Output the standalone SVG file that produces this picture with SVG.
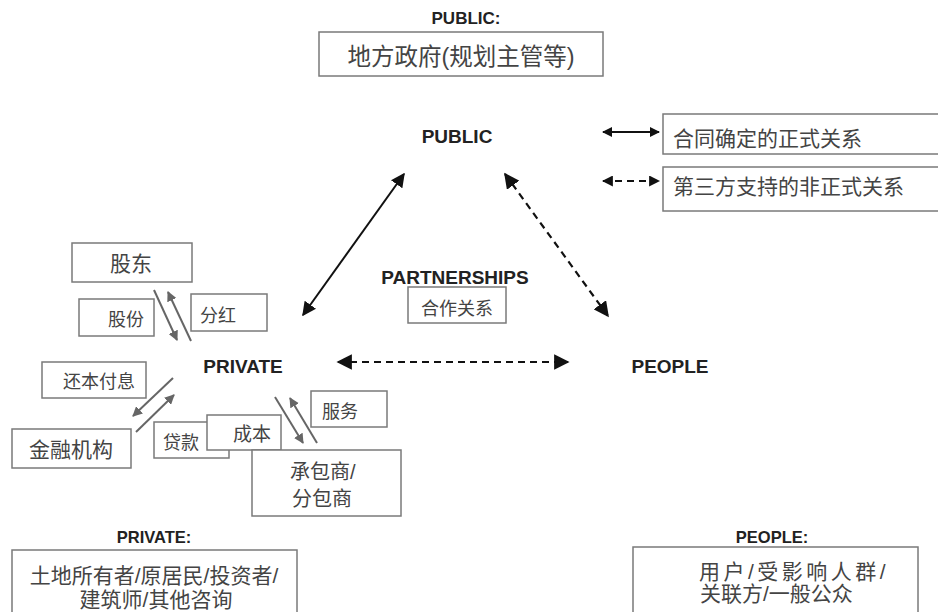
<svg xmlns="http://www.w3.org/2000/svg" width="938" height="612" viewBox="0 0 938 612">
<style>
.box{fill:#fff;stroke:#7a7a7a;stroke-width:1.5}
.hd{font-family:"Liberation Sans","Noto Sans CJK SC",sans-serif;font-weight:bold;fill:#222;text-anchor:middle}
.cn{font-family:"Liberation Sans","Noto Sans CJK SC",sans-serif;fill:#444}
.mid{text-anchor:middle}
.solid{stroke:#111;stroke-width:2;fill:none}
.dash{stroke:#111;stroke-width:2.2;fill:none;stroke-dasharray:7 5}
.gray{stroke:#666;stroke-width:2;fill:none}
</style>
<defs>
<marker id="ah" viewBox="0 0 10 10" refX="9" refY="5" markerWidth="7" markerHeight="7" markerUnits="strokeWidth" orient="auto-start-reverse">
<path d="M0,0 L10,5 L0,10 z" fill="#111"/>
</marker>
<marker id="ahs" viewBox="0 0 10 10" refX="9" refY="5" markerWidth="5" markerHeight="5" markerUnits="strokeWidth" orient="auto-start-reverse">
<path d="M0,0 L10,5 L0,10 z" fill="#111"/>
</marker>
<marker id="ag" viewBox="0 0 10 10" refX="9" refY="5" markerWidth="5" markerHeight="5" markerUnits="strokeWidth" orient="auto">
<path d="M0,0 L10,5 L0,10 z" fill="#666"/>
</marker>
</defs>

<g id="public-top">
<text class="hd" x="466" y="24" font-size="17">PUBLIC:</text>
<rect class="box" x="319" y="32" width="284" height="44"/>
<text class="cn mid" x="461" y="65" font-size="23.5">地方政府(规划主管等)</text>
</g>

<g id="public"><text class="hd" x="457" y="143" font-size="19">PUBLIC</text></g>
<g id="private"><text class="hd" x="243" y="373" font-size="19">PRIVATE</text></g>
<g id="people"><text class="hd" x="670" y="373" font-size="19">PEOPLE</text></g>

<g id="partnerships">
<text class="hd" x="455" y="284" font-size="19">PARTNERSHIPS</text>
<rect class="box" x="408" y="287" width="98" height="36"/>
<text class="cn mid" x="457" y="315" font-size="18">合作关系</text>
</g>

<g id="legend-formal">
<rect class="box" x="663" y="114" width="280" height="40"/>
<text class="cn" x="673" y="146" font-size="21">合同确定的正式关系</text>
</g>
<g id="legend-informal">
<rect class="box" x="663" y="167" width="280" height="44"/>
<text class="cn" x="673" y="194" font-size="21">第三方支持的非正式关系</text>
</g>

<g id="shareholder">
<rect class="box" x="72" y="243" width="120" height="39"/>
<text class="cn mid" x="131" y="271" font-size="21">股东</text>
</g>
<g id="shares">
<rect class="box" x="79" y="299" width="75" height="37"/>
<text class="cn" x="108" y="326" font-size="18">股份</text>
</g>
<g id="dividend">
<rect class="box" x="191" y="294" width="76" height="37"/>
<text class="cn" x="200" y="322" font-size="18">分红</text>
</g>
<g id="repay">
<rect class="box" x="42" y="362" width="104" height="36"/>
<text class="cn" x="63" y="388" font-size="18">还本付息</text>
</g>
<g id="finance">
<rect class="box" x="12" y="429" width="119" height="39"/>
<text class="cn" x="29" y="457" font-size="21">金融机构</text>
</g>
<g id="loan">
<rect class="box" x="154" y="422" width="75" height="36"/>
<text class="cn" x="163" y="449" font-size="18">贷款</text>
</g>
<g id="cost">
<rect class="box" x="207" y="415" width="74" height="35"/>
<text class="cn" x="233" y="441" font-size="19">成本</text>
</g>
<g id="service">
<rect class="box" x="311" y="391" width="76" height="36"/>
<text class="cn" x="322" y="418" font-size="18">服务</text>
</g>
<g id="contractor">
<rect class="box" x="252" y="450" width="149" height="66"/>
<text class="cn" x="290" y="479" font-size="20">承包商/</text>
<text class="cn" x="292" y="506" font-size="20">分包商</text>
</g>

<g id="private-bottom">
<text class="hd" x="154" y="543" font-size="16.5">PRIVATE:</text>
<rect class="box" x="12" y="550" width="285" height="70"/>
<text class="cn mid" x="154" y="583" font-size="21">土地所有者/原居民/投资者/</text>
<text class="cn mid" x="156" y="607" font-size="21">建筑师/其他咨询</text>
</g>
<g id="people-bottom">
<text class="hd" x="772" y="543" font-size="16.5">PEOPLE:</text>
<rect class="box" x="633" y="547" width="285" height="70"/>
<text class="cn" x="699" y="579" font-size="21" letter-spacing="3.5">用户/受影响人群/</text>
<text class="cn" x="700" y="601" font-size="21">关联方/一般公众</text>
</g>

<g id="connectors">
<line class="solid" x1="303" y1="315" x2="404" y2="174" marker-start="url(#ah)" marker-end="url(#ah)"/>
<line class="dash" x1="505" y1="174" x2="608" y2="316" marker-start="url(#ah)" marker-end="url(#ah)"/>
<line class="dash" x1="338" y1="362" x2="568" y2="362" marker-start="url(#ah)" marker-end="url(#ah)"/>
<line class="solid" x1="603" y1="132" x2="659" y2="132" marker-start="url(#ahs)" marker-end="url(#ahs)"/>
<line class="dash" x1="603" y1="181" x2="659" y2="181" stroke-dasharray="5 4" marker-start="url(#ahs)" marker-end="url(#ahs)"/>
<line class="gray" x1="154" y1="290" x2="177" y2="340" marker-end="url(#ag)"/>
<line class="gray" x1="191" y1="341" x2="168" y2="292" marker-end="url(#ag)"/>
<line class="gray" x1="173" y1="378" x2="133" y2="416" marker-end="url(#ag)"/>
<line class="gray" x1="136" y1="432" x2="174" y2="395" marker-end="url(#ag)"/>
<line class="gray" x1="275" y1="397" x2="303" y2="443" marker-end="url(#ag)"/>
<line class="gray" x1="317" y1="443" x2="290" y2="398" marker-end="url(#ag)"/>
</g>
</svg>
